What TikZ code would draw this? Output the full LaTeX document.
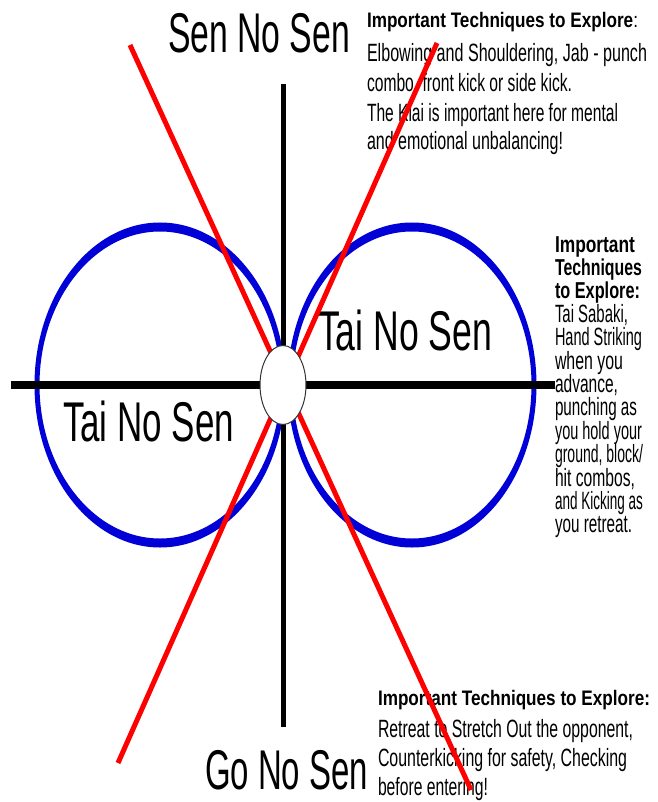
\documentclass[tikz,border=0pt]{standalone}
\usepackage{fontspec}
\setmainfont{Liberation Sans}
\usepackage{graphicx}
\usetikzlibrary{shapes.geometric}
\newcommand{\fitw}[2]{\resizebox{#1pt}{\height}{#2}}
\definecolor{cblue}{RGB}{0,0,215}
\definecolor{cred}{RGB}{255,0,0}
\begin{document}
\begin{tikzpicture}[x=1pt,y=-1pt,
  lbl/.style={anchor=base west, inner sep=0pt, outer sep=0pt},
  big/.style={lbl, font=\fontsize{56}{60}\selectfont},
  ttl/.style={lbl, font=\bfseries\fontsize{21}{25}\selectfont},
  ttlb/.style={lbl, font=\bfseries\fontsize{23}{25}\selectfont},
  body/.style={lbl, font=\fontsize{25}{30}\selectfont},
  loop/.style={fill=cblue, even odd rule},
  axisv/.style={draw=black, line width=5pt},
  axish/.style={draw=black, line width=8pt},
  cut/.style={draw=cred, line width=5pt},
  hub/.style={draw=black!80, line width=1pt, fill=white}]
\fill[white] (0,0) rectangle (657,802);
\useasboundingbox (0,0) rectangle (657,802);
% loops (ring thicker at top and bottom, as in the stretched original)
\coordinate (lc) at (160,385);
\coordinate (rc) at (412,385);
\fill[loop] (lc) ellipse [x radius=125.5, y radius=162.5]
            (lc) ellipse [x radius=120.5, y radius=153.5];
\fill[loop] (rc) ellipse [x radius=124.5, y radius=162.5]
            (rc) ellipse [x radius=119.5, y radius=153.5];
% axes
\coordinate (vt) at (283,84);
\coordinate (vb) at (283,727);
\coordinate (hl) at (11,385);
\coordinate (hr) at (555,385);
\draw[axisv] (vt) -- (vb);
\draw[axish] (hl) -- (hr);
% big labels
\node[big] (sns) at (168,53) {\fitw{182}{Sen No Sen}};
\node[big] (gns) at (205,789) {\fitw{163}{Go No Sen}};
\node[big] (tnsl) at (63,441) {\fitw{171}{Tai No Sen}};
\node[big] (tnsr) at (318,350) {\fitw{174}{Tai No Sen}};
% block 1
\node[ttl] (a1) at (367,28) {\fitw{271}{Important Techniques to Explore{\mdseries:}}};
\node[body] (a2) at (367,62) {\fitw{280}{Elbowing and Shouldering, Jab - punch}};
\node[body] (a3) at (367,92) {\fitw{205}{combo, front kick or side kick.}};
\node[body] (a4) at (367,122) {\fitw{251}{The Kiai is important here for mental}};
\node[body] (a5) at (367,150) {\fitw{196}{and emotional unbalancing!}};
% block 2
\node[ttlb] (b1) at (555,252) {\fitw{80}{Important}};
\node[ttlb] (b2) at (555,275.4) {\fitw{87}{Techniques}};
\node[ttlb] (b3) at (555,298.8) {\fitw{85}{to Explore:}};
\node[body] (b4) at (555,322.2) {\fitw{73}{Tai Sabaki,}};
\node[body] (b5) at (555,345.6) {\fitw{87}{Hand Striking}};
\node[body] (b6) at (555,369.0) {\fitw{68}{when you}};
\node[body] (b7) at (555,392.4) {\fitw{63}{advance,}};
\node[body] (b8) at (555,415.8) {\fitw{82}{punching as}};
\node[body] (b9) at (555,439.2) {\fitw{87}{you hold your}};
\node[body] (b10) at (555,462.6) {\fitw{88}{ground, block/}};
\node[body] (b11) at (555,486.0) {\fitw{80}{hit combos,}};
\node[body] (b12) at (555,509.4) {\fitw{88}{and Kicking as}};
\node[body] (b13) at (555,532.8) {\fitw{77}{you retreat.}};
% block 3
\node[ttl] (c1) at (378,705) {\fitw{272}{Important Techniques to Explore:}};
\node[body] (c2) at (378,737) {\fitw{255}{Retreat to Stretch Out the opponent,}};
\node[body] (c3) at (378,766) {\fitw{249}{Counterkicking for safety, Checking}};
\node[body] (c4) at (378,795) {\fitw{110}{before entering!}};
% red cuts
\coordinate (ra1) at (130,45);
\coordinate (ra2) at (471,790);
\coordinate (rb1) at (437,43);
\coordinate (rb2) at (118,763);
\draw[cut] (ra1) -- (ra2);
\draw[cut] (rb1) -- (rb2);
% hub
\node[hub, ellipse, minimum width=46pt, minimum height=79pt, inner sep=0pt] (hub) at (283,385) {};
\end{tikzpicture}
\end{document}
